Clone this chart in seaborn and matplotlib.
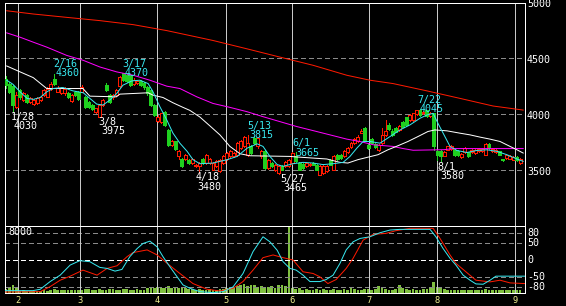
import numpy as np
import pandas as pd
import matplotlib
matplotlib.use("Agg")
import matplotlib.pyplot as plt
import seaborn as sns
from matplotlib.transforms import offset_copy

plt.rcParams['lines.scale_dashes'] = False
plt.rcParams['font.family'] = ['DejaVu Sans Mono', 'DejaVu Sans']

# ---------------- data ----------------
opens = [4313, 4274, 4251, 4068, 4215, 4127, 4171, 4112, 4091, 4097,
         4127, 4171, 4156, 4230, 4318, 4201, 4186, 4186, 4192, 4118,
         4201, 4201, 4201, 4156, 4112, 4083, 4024, 3979, 4083, 4260,
         4170, 4150, 4171, 4250, 4369, 4350, 4348, 4274, 4280, 4300,
         4280, 4245, 4215, 4083, 3944, 3935, 4024, 3861, 3729, 3758,
         3631, 3602, 3602, 3596, 3566, 3537, 3537, 3602, 3566, 3566,
         3507, 3537, 3492, 3566, 3602, 3625, 3625, 3640, 3699, 3714,
         3640, 3714, 3787, 3714, 3625, 3670, 3522, 3566, 3502, 3478,
         3537, 3537, 3537, 3566, 3625, 3566, 3560, 3537, 3545, 3566,
         3552, 3463, 3478, 3492, 3596, 3507, 3640, 3640, 3625, 3661,
         3708, 3749, 3758, 3838, 3882, 3729, 3779, 3737, 3678, 3743,
         3817, 3906, 3855, 3876, 3861, 3935, 3973, 3950, 3950, 4003,
         4040, 4009, 4038, 3985, 4009, 3670, 3670, 3631, 3684, 3690,
         3678, 3670, 3619, 3660, 3660, 3660, 3655, 3670, 3670, 3640,
         3737, 3670, 3664, 3670, 3600, 3610, 3605, 3596, 3619, 3566]
highs = [4339, 4290, 4262, 4200, 4225, 4195, 4180, 4150, 4135, 4150,
         4165, 4225, 4240, 4285, 4360, 4250, 4245, 4240, 4200, 4180,
         4210, 4210, 4260, 4165, 4120, 4090, 4060, 4095, 4135, 4275,
         4180, 4185, 4225, 4345, 4370, 4360, 4355, 4320, 4310, 4310,
         4290, 4255, 4220, 4090, 3990, 4015, 4030, 3870, 3770, 3765,
         3680, 3610, 3650, 3605, 3610, 3560, 3575, 3610, 3650, 3610,
         3575, 3590, 3605, 3635, 3665, 3680, 3665, 3755, 3770, 3810,
         3815, 3725, 3800, 3800, 3680, 3680, 3605, 3575, 3560, 3545,
         3545, 3580, 3605, 3660, 3665, 3575, 3570, 3575, 3570, 3572,
         3560, 3545, 3545, 3545, 3605, 3635, 3650, 3648, 3680, 3710,
         3752, 3790, 3812, 3865, 3890, 3740, 3790, 3745, 3740, 3876,
         3950, 3920, 3865, 3885, 3905, 3945, 3980, 4000, 4015, 4042,
         4045, 4030, 4042, 4022, 4015, 3680, 3680, 3670, 3720, 3728,
         3685, 3678, 3655, 3705, 3668, 3690, 3690, 3698, 3698, 3742,
         3742, 3697, 3690, 3676, 3606, 3646, 3637, 3625, 3626, 3608]
lows = [4239, 4190, 4030, 4053, 4140, 4115, 4100, 4100, 4085, 4090,
        4120, 4165, 4150, 4220, 4260, 4195, 4180, 4175, 4145, 4110,
        4165, 4125, 4195, 4055, 4055, 4035, 4015, 3975, 4075, 4205,
        4100, 4140, 4160, 4240, 4295, 4290, 4250, 4265, 4270, 4250,
        4230, 4175, 4075, 3985, 3935, 3925, 3895, 3720, 3720, 3680,
        3600, 3530, 3590, 3560, 3555, 3530, 3480, 3560, 3560, 3555,
        3500, 3530, 3485, 3560, 3595, 3620, 3620, 3630, 3690, 3705,
        3630, 3645, 3735, 3700, 3615, 3515, 3515, 3530, 3495, 3465,
        3500, 3530, 3530, 3560, 3575, 3500, 3515, 3530, 3540, 3545,
        3500, 3455, 3470, 3485, 3545, 3500, 3595, 3603, 3620, 3655,
        3700, 3740, 3750, 3830, 3765, 3690, 3735, 3700, 3670, 3735,
        3810, 3860, 3810, 3840, 3855, 3885, 3900, 3945, 3945, 3998,
        3988, 4003, 3980, 3980, 3684, 3596, 3580, 3625, 3678, 3685,
        3630, 3630, 3612, 3655, 3618, 3655, 3650, 3665, 3665, 3635,
        3692, 3665, 3658, 3634, 3588, 3604, 3600, 3590, 3584, 3560]
closes = [4260, 4201, 4083, 4171, 4156, 4186, 4112, 4142, 4127, 4142,
          4156, 4215, 4230, 4274, 4268, 4239, 4239, 4230, 4156, 4171,
          4171, 4133, 4245, 4062, 4062, 4044, 4053, 4083, 4127, 4215,
          4112, 4175, 4215, 4333, 4304, 4300, 4260, 4304, 4300, 4260,
          4240, 4186, 4083, 3994, 3979, 4009, 3906, 3729, 3758, 3690,
          3670, 3537, 3640, 3566, 3602, 3552, 3566, 3566, 3640, 3602,
          3566, 3581, 3596, 3625, 3655, 3670, 3655, 3743, 3758, 3802,
          3743, 3655, 3743, 3787, 3670, 3522, 3596, 3537, 3552, 3537,
          3507, 3572, 3596, 3655, 3581, 3507, 3522, 3566, 3560, 3552,
          3507, 3537, 3537, 3537, 3552, 3625, 3602, 3610, 3670, 3699,
          3743, 3779, 3802, 3852, 3773, 3699, 3743, 3708, 3729, 3817,
          3855, 3867, 3817, 3847, 3897, 3891, 3906, 3994, 4009, 4038,
          3994, 4024, 3985, 4015, 3714, 3640, 3631, 3660, 3714, 3720,
          3640, 3640, 3649, 3699, 3625, 3684, 3684, 3690, 3690, 3737,
          3699, 3690, 3684, 3640, 3594, 3640, 3631, 3619, 3590, 3602]
volume = [500, 700, 900, 600, 250, 300, 250, 200, 250, 200,
          250, 300, 250, 350, 450, 350, 300, 350, 300, 400,
          350, 300, 400, 450, 500, 400, 350, 450, 400, 350,
          500, 450, 400, 350, 450, 500, 400, 350, 450, 400,
          350, 550, 650, 600, 700, 550, 600, 800, 650, 550,
          600, 700, 550, 500, 450, 400, 500, 350, 400, 450,
          350, 400, 500, 450, 550, 600, 700, 800, 900, 1100,
          800, 900, 1000, 700, 800, 600, 700, 800, 600, 900,
          1000, 800, 8000, 650, 450, 550, 400, 500, 350, 350,
          450, 400, 450, 350, 400, 500, 400, 350, 450, 400,
          550, 450, 350, 400, 450, 500, 400, 500, 800, 600,
          450, 400, 350, 500, 900, 600, 450, 400, 450, 350,
          400, 450, 500, 600, 1300, 700, 550, 450, 400, 350,
          400, 300, 350, 400, 300, 350, 300, 400, 350, 450,
          350, 300, 350, 300, 400, 350, 300, 350, 400, 350]

# moving averages: (trading-day index, price)
ma_short_day = [0.2, 2, 4.1, 6.1, 7.9, 9.9, 11.8, 13.6, 16.5, 19.4, 22.4, 24.3,
                26.3, 28.1, 30.1, 32.1, 33.9, 36.5, 38.8, 41.2, 42.6, 44.6, 46.6,
                48.4, 50.4, 52.5, 54.2, 56.2, 60, 64.1, 67, 69.9, 72.8, 74.5,
                76.5, 78.6, 80.3, 83.2, 86.1, 89, 91.9, 94.8, 97.7, 99.7, 101.7,
                103.5, 105.5, 108.4, 111.3, 114.2, 117.1, 120, 122, 123.8, 125.2,
                126.7, 128.7, 130.7, 133.6, 136.5, 139.4, 142.3, 145.2, 148.1, 149.9]
ma_short = [4304, 4268, 4200, 4142, 4133, 4150, 4200, 4230, 4239, 4209, 4192, 4142,
            4091, 4083, 4127, 4186, 4260, 4298, 4304, 4274, 4201, 4068, 3950,
            3832, 3743, 3670, 3596, 3560, 3566, 3596, 3625, 3699, 3737, 3714,
            3625, 3552, 3537, 3560, 3572, 3566, 3552, 3560, 3572, 3625, 3699,
            3758, 3758, 3743, 3802, 3861, 3906, 3965, 3994, 4009, 3920,
            3832, 3714, 3678, 3660, 3678, 3684, 3670, 3640, 3602, 3581]
ma_mid_day = [0.2, 4.1, 7.9, 11.8, 22.3, 24.3, 32, 33, 41.2, 42.6, 45.5, 48.4,
              51.3, 53.3, 56.2, 59.1, 62, 64.9, 67.8, 70.7, 82.3, 84.3, 93, 96.8,
              99.1, 102, 105, 107.8, 110.7, 113.6, 116.5, 119.4, 122.3, 124.3,
              127.8, 131.6, 134.5, 137.4, 140.3, 143.2, 146.1, 148.1, 149.9]
ma_mid = [4431, 4378, 4327, 4230, 4230, 4162, 4156, 4180, 4192, 4171, 4150, 4103,
          4062, 4035, 3976, 3897, 3817, 3714, 3649, 3631, 3625, 3620, 3602, 3572,
          3566, 3596, 3619, 3640, 3684, 3720, 3758, 3802, 3847, 3861,
          3853, 3832, 3817, 3797, 3779, 3758, 3714, 3684, 3655]
ma_long_day = [0.2, 4.1, 7.9, 11.8, 17.6, 22.4, 27.2, 32.1, 36.9, 41.7, 46.6,
               50.4, 55.3, 60, 64.9, 69.8, 74.5, 79.4, 84.3, 89, 93.9, 98.8,
               102.6, 106.4, 112.2, 115.1, 118, 127, 129.6, 149.9]
ma_long = [4726, 4687, 4643, 4599, 4525, 4481, 4422, 4378, 4348, 4304, 4251,
           4230, 4156, 4097, 4062, 4024, 3979, 3935, 3891, 3855, 3817, 3779,
           3758, 3729, 3714, 3695, 3680, 3685, 3695, 3695]
ma_year_day = [0.2, 7.9, 17.6, 27.2, 36.9, 46.6, 53.3, 60, 69.8, 79.4, 89, 98.8,
               105.5, 112.2, 122, 131.6, 141.2, 149.9]
ma_year = [4923, 4894, 4864, 4835, 4799, 4746, 4702, 4658, 4584, 4510, 4437, 4348,
           4304, 4274, 4209, 4142, 4074, 4038]

# oscillator lines
osc1_day = [-0.3, 7.8, 9.9, 12.8, 15.7, 18.6, 21.4, 24.3, 27.2, 29.3, 31.6, 33.6,
            35.9, 38, 39.7, 41.7, 43.8, 45.5, 47.5, 49.6, 51.3, 53.3, 56.2, 60,
            62.9, 65.8, 68.7, 71.6, 74.5, 76.5, 78.6, 80.3, 82.3, 84.1, 86.1,
            88.1, 91, 92.8, 94.8, 96.8, 98.6, 100.6, 102.6, 105.5, 108.4, 111.3,
            114.2, 118.8, 122.9, 124.6, 126.7, 128.7, 130.4, 132.5, 134.5, 136.2,
            138.3, 140.3, 142, 147.8, 150.4]
osc1 = [-91, -91, -87, -64, -45, -15, -2, -5, -22, -25, -33, -28,
        10, 34, 49, 56, 39, 10, -20, -50, -74, -84, -94, -97,
        -94, -80, -40, 25, 69, 54, 29, -5, -25, -30, -45,
        -64, -64, -58, -45, -10, 30, 54, 64, 69, 81, 89,
        91, 91, 91, 69, 34, 5, -15, -45, -60, -71,
        -72, -60, -48, -48, -48]
osc2_day = [-0.3, 9.9, 12.8, 15.7, 18.6, 22.3, 26.4, 29.3, 32.2, 35.1, 36.8, 40.9,
            43.8, 46.7, 50.4, 54.2, 58.3, 62, 65.8, 68.7, 71.6, 74.5, 77.4, 80.3,
            83.2, 86.1, 89, 91, 93.3, 95.7, 98.6, 100.6, 103.5, 106.4, 110.1,
            113, 117.1, 123.8, 125.8, 128.7, 130.4, 133.3, 136.2, 140.3, 143.2,
            146.1, 150.4]
osc2 = [-95, -94, -79, -60, -48, -30, -45, -25, -17, 10, 22, 30,
        15, -10, -40, -70, -87, -92, -84, -64, -30, 7, 15, 7,
        0, -35, -40, -50, -70, -58, -25, 5, 59, 76, 79,
        87, 94, 94, 64, 15, -10, -35, -60, -65, -60,
        -68, -70]

month_pos = [3.48, 21.45, 43.8, 63.8, 82.9, 105.2, 124.9, 147.5]
month_labels = ['2', '3', '4', '5', '6', '7', '8', '9']
price_ticks = [3500, 4000, 4500, 5000]
osc_ticks = [80, 50, 0, -50, -80]

ann_text = ['1/28', '4030', '2/16', '4360', '3/8', '3975', '3/17', '4370',
            '4/18', '3480', '5/13', '3815', '5/27', '3465', '6/1', '3665',
            '7/22', '4045', '8/1', '3580']
ann_day = [1.45, 2.3, 13.6, 14.5, 26.7, 27.5, 33.6, 34.5, 54.8, 55.4, 69.9, 70.4,
           79.4, 80.3, 82.9, 83.8, 119.1, 120, 124.9, 125.8]
ann_price = [4020, 3940, 4493, 4413, 3976, 3896, 4493, 4413, 3486, 3397, 3940, 3860,
             3468, 3388, 3789, 3700, 4172, 4092, 3575, 3495]
ann_kind = ['low', 'low', 'high', 'high', 'low', 'low', 'high', 'high', 'low', 'low',
            'high', 'high', 'low', 'low', 'high', 'high', 'high', 'high', 'low', 'low']

# ---------------- styling ----------------
RED = '#ff1a00'
GREEN = '#1fd01f'
CYAN = '#38e8f0'
MAG = '#ff00ff'
WHITE = '#ffffff'
VOL = '#80c040'
GRID = '#8a8a8a'
VLINE = '#c8c8c8'
YELLOW = '#f0f090'
LW = 0.72      # frame
LL = 0.55      # 1-px crisp lines
LD = 0.72      # smooth data lines
FS = 7.2

W, H = 566, 306
fig = plt.figure(figsize=(W / 100, H / 100), dpi=100, facecolor='black')
X0, X1 = 5, 525
pos_main = [X0 / W, (H - 226) / H, (X1 - X0) / W, 223 / H]
pos_low = [X0 / W, (H - 293) / H, (X1 - X0) / W, 67 / H]
ax = fig.add_axes(pos_main, facecolor='black')
vax = fig.add_axes(pos_low, facecolor='black')
oax = fig.add_axes(pos_low, facecolor='none')
oax.set_zorder(vax.get_zorder() + 1)

XL = (-0.29, 150.43)
for a in (ax, vax, oax):
    a.set_xlim(*XL)
    a.tick_params(length=0)
ax.set_ylim(3005, 4992)
vax.set_ylim(0, 8000)
oax.set_ylim(-98, 101)

for a in (ax, oax):
    for s in a.spines.values():
        s.set_color(WHITE)
        s.set_linewidth(LW)
        s.set_antialiased(False)
for s in vax.spines.values():
    s.set_visible(False)
vax.set_xticks([])
vax.set_yticks([])
ax.set_xticks([])
ax.set_yticks([])
oax.set_yticks([])

# grid / month lines
for v in price_ticks[:-1]:
    ax.axhline(v, color=GRID, lw=LL, dashes=(2.9, 2.2), zorder=1, antialiased=False)
for v in osc_ticks:
    oax.axhline(v, color=WHITE if v == 0 else GRID, lw=LL, dashes=(2.9, 2.2),
                zorder=1, antialiased=False)
for m in month_pos:
    ax.axvline(m, color=VLINE, lw=LL, zorder=1, antialiased=False)
    oax.axvline(m, color=VLINE, lw=LL, zorder=1, antialiased=False)

# candles
df = pd.DataFrame(dict(day=np.arange(len(opens)), o=opens, h=highs, l=lows, c=closes))
up = df[df.c >= df.o]
dn = df[df.c < df.o]
ax.vlines(up.day, up.l, up.h, color=RED, lw=LL, zorder=3, antialiased=False)
ax.bar(up.day, up.c - up.o, bottom=up.o, width=0.86, facecolor='black',
       edgecolor=RED, linewidth=LL, zorder=4, antialiased=False)
ax.vlines(dn.day, dn.l, dn.h, color=GREEN, lw=LL, zorder=3, antialiased=False)
ax.bar(dn.day, dn.o - dn.c, bottom=dn.c, width=0.86, facecolor=GREEN,
       edgecolor=GREEN, linewidth=LL, zorder=4, antialiased=False)

# moving averages with seaborn
for xs, ys, col in [(ma_year_day, ma_year, RED), (ma_long_day, ma_long, MAG),
                    (ma_mid_day, ma_mid, WHITE), (ma_short_day, ma_short, CYAN)]:
    sns.lineplot(x=xs, y=ys, ax=ax, color=col, linewidth=LD, estimator=None,
                 sort=False, legend=False, zorder=5)

# volume
vax.bar(np.arange(len(volume)), volume, width=0.8, color=VOL, linewidth=0, zorder=2,
        antialiased=False)

# oscillators
sns.lineplot(x=osc2_day, y=osc2, ax=oax, color=RED, linewidth=LD, estimator=None,
             sort=False, legend=False, zorder=5)
sns.lineplot(x=osc1_day, y=osc1, ax=oax, color=CYAN, linewidth=LD, estimator=None,
             sort=False, legend=False, zorder=6)
ax.set_xlabel(''); ax.set_ylabel('')
oax.set_xlabel(''); oax.set_ylabel('')

# month labels
oax.set_xticks(month_pos)
oax.set_xticklabels(month_labels, color=YELLOW, fontsize=6.3)
oax.tick_params(axis='x', length=0, pad=2.2)

# right-hand labels
tr_main = offset_copy(ax.get_yaxis_transform(), fig=fig, x=2, y=-2, units='dots')
for v in price_ticks:
    ax.text(1.0, v, str(v), transform=tr_main, ha='left', va='center',
            color=WHITE, fontsize=FS, clip_on=False)
tr_low = offset_copy(oax.get_yaxis_transform(), fig=fig, x=2, y=0, units='dots')
for v in osc_ticks:
    oax.text(1.0, v, str(v), transform=tr_low, ha='left', va='center',
             color=WHITE, fontsize=FS, clip_on=False)
oax.text(0.006, 0.985, '8000', transform=oax.transAxes, ha='left', va='top',
         color=WHITE, fontsize=FS)

# high / low annotations
for t, d, p, k in zip(ann_text, ann_day, ann_price, ann_kind):
    ax.text(d, p, t, ha='left', va='top', color=CYAN if k == 'high' else WHITE,
            fontsize=FS, zorder=7)

fig.savefig('out.png', dpi=100, facecolor='black')
